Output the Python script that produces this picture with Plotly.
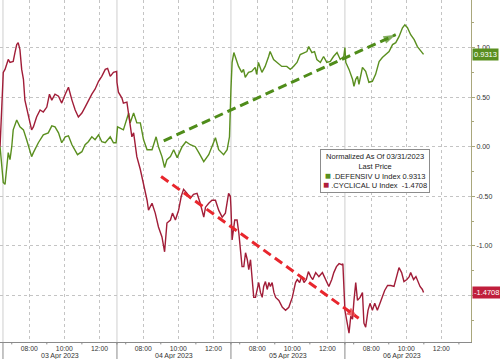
import plotly.graph_objects as go
import pandas as pd

# ---------------- data ----------------
day_labels = ["03 Apr 2023", "04 Apr 2023", "05 Apr 2023", "06 Apr 2023"]
session_dates = ["2023-04-03", "2023-04-04", "2023-04-05", "2023-04-06"]
time_tick_labels = ["08:00", "10:00", "12:00"]
ytick_vals = [1.0, 0.5, 0.0, -0.5, -1.0, -1.5]

defensiv_time = [
    "04-03 06:20", "04-03 06:31", "04-03 06:37", "04-03 06:48", "04-03 06:54", "04-03 07:00",
    "04-03 07:05", "04-03 07:17", "04-03 07:28", "04-03 07:40", "04-03 07:51", "04-03 08:08",
    "04-03 08:14", "04-03 08:31", "04-03 08:48", "04-03 09:05", "04-03 09:17", "04-03 09:28",
    "04-03 09:40", "04-03 09:51", "04-03 10:03", "04-03 10:14", "04-03 10:26", "04-03 10:45",
    "04-03 11:00", "04-03 11:11", "04-03 11:22", "04-03 11:34", "04-03 11:45", "04-03 11:57",
    "04-03 12:08", "04-03 12:20", "04-03 12:37", "04-03 12:48", "04-03 12:57",
    "04-04 06:32", "04-04 06:39", "04-04 06:52", "04-04 07:10", "04-04 07:15", "04-04 07:27",
    "04-04 07:38", "04-04 07:50", "04-04 08:01", "04-04 08:13", "04-04 08:30", "04-04 08:44",
    "04-04 08:52", "04-04 09:04", "04-04 09:13", "04-04 09:21", "04-04 09:33", "04-04 09:44",
    "04-04 09:56", "04-04 10:13", "04-04 10:26", "04-04 10:41", "04-04 10:58", "04-04 11:10",
    "04-04 11:27", "04-04 11:44", "04-04 12:01", "04-04 12:07", "04-04 12:18", "04-04 12:35",
    "04-04 12:47", "04-04 12:55",
    "04-05 06:30", "04-05 06:34", "04-05 06:40", "04-05 06:56", "04-05 07:07", "04-05 07:13",
    "04-05 07:19", "04-05 07:30", "04-05 07:41", "04-05 07:53", "04-05 07:58", "04-05 08:04",
    "04-05 08:16", "04-05 08:27", "04-05 08:39", "04-05 08:44", "04-05 08:56", "04-05 09:07",
    "04-05 09:24", "04-05 09:41", "04-05 09:53", "04-05 10:04", "04-05 10:16", "04-05 10:27",
    "04-05 10:39", "04-05 10:50", "04-05 10:56", "04-05 11:07", "04-05 11:16", "04-05 11:24",
    "04-05 11:36", "04-05 11:47", "04-05 11:58", "04-05 12:10", "04-05 12:21", "04-05 12:33",
    "04-05 12:44", "04-05 12:56",
    "04-06 06:30", "04-06 06:33", "04-06 06:44", "04-06 06:56", "04-06 07:01", "04-06 07:07",
    "04-06 07:13", "04-06 07:18", "04-06 07:30", "04-06 07:41", "04-06 07:52", "04-06 08:04",
    "04-06 08:15", "04-06 08:27", "04-06 08:38", "04-06 08:50", "04-06 09:01", "04-06 09:13",
    "04-06 09:24", "04-06 09:35", "04-06 09:47", "04-06 09:55", "04-06 10:04", "04-06 10:15",
    "04-06 10:27", "04-06 10:38", "04-06 10:50", "04-06 10:59",
]
defensiv_value = [
    0.00, -0.36, -0.38, -0.06, -0.13, 0.00,
    0.17, 0.27, 0.20, 0.17, 0.07, -0.10,
    -0.06, 0.04, 0.12, 0.14, 0.21, 0.20,
    0.14, 0.04, 0.10, 0.11, 0.02, -0.08,
    -0.05, 0.02, 0.05, 0.10, 0.07, 0.12,
    0.05, 0.04, 0.10, 0.04, 0.04,
    0.20, 0.19, 0.17, 0.34, 0.24, 0.34,
    0.24, 0.24, 0.07, -0.03, -0.03, 0.10,
    0.00, -0.10, -0.21, -0.13, -0.10, -0.03,
    -0.11, 0.00, 0.05, 0.02, 0.00, -0.06,
    -0.15, -0.08, 0.05, 0.09, -0.03, -0.08,
    -0.03, 0.10,
    0.58, 0.85, 0.95, 0.81, 0.75, 0.78,
    0.70, 0.75, 0.76, 0.80, 0.73, 0.85,
    0.75, 0.81, 0.91, 0.96, 0.88, 0.85,
    0.81, 0.81, 0.78, 0.81, 0.85, 0.93,
    0.95, 0.96, 1.01, 0.95, 0.96, 0.88,
    0.85, 0.91, 0.85, 0.86, 0.91, 0.95,
    0.88, 0.91,
    1.00, 0.85, 0.78, 0.68, 0.61, 0.68,
    0.71, 0.63, 0.80, 0.76, 0.65, 0.66,
    0.73, 0.86, 0.90, 0.93, 0.96, 1.03,
    1.05, 1.11, 1.20, 1.23, 1.20, 1.13,
    1.08, 1.01, 0.96, 0.9313,
]

cyclical_time = [
    "04-03 06:20", "04-03 06:31", "04-03 06:37", "04-03 06:43", "04-03 06:48", "04-03 06:54",
    "04-03 07:00", "04-03 07:05", "04-03 07:11", "04-03 07:17", "04-03 07:22", "04-03 07:28",
    "04-03 07:34", "04-03 07:40", "04-03 07:45", "04-03 07:57", "04-03 08:08", "04-03 08:14",
    "04-03 08:25", "04-03 08:37", "04-03 08:48", "04-03 09:00", "04-03 09:09", "04-03 09:17",
    "04-03 09:28", "04-03 09:40", "04-03 09:51", "04-03 10:03", "04-03 10:14", "04-03 10:26",
    "04-03 10:37", "04-03 10:48", "04-03 11:00", "04-03 11:11", "04-03 11:22", "04-03 11:34",
    "04-03 11:45", "04-03 11:57", "04-03 12:08", "04-03 12:20", "04-03 12:28", "04-03 12:37",
    "04-03 12:48", "04-03 12:59",
    "04-04 06:30", "04-04 06:35", "04-04 06:47", "04-04 06:52", "04-04 07:04", "04-04 07:10",
    "04-04 07:15", "04-04 07:21", "04-04 07:27", "04-04 07:38", "04-04 07:50", "04-04 08:01",
    "04-04 08:13", "04-04 08:18", "04-04 08:30", "04-04 08:41", "04-04 08:52", "04-04 09:04",
    "04-04 09:13", "04-04 09:21", "04-04 09:33", "04-04 09:40", "04-04 09:50", "04-04 10:01",
    "04-04 10:10", "04-04 10:18", "04-04 10:30", "04-04 10:41", "04-04 10:52", "04-04 11:04",
    "04-04 11:15", "04-04 11:27", "04-04 11:33", "04-04 11:44", "04-04 11:55", "04-04 12:07",
    "04-04 12:18", "04-04 12:30", "04-04 12:41", "04-04 12:52", "04-04 12:58",
    "04-05 06:30", "04-05 06:34", "04-05 06:43", "04-05 06:51", "04-05 06:57", "04-05 07:03",
    "04-05 07:08", "04-05 07:14", "04-05 07:20", "04-05 07:26", "04-05 07:31", "04-05 07:37",
    "04-05 07:43", "04-05 07:48", "04-05 07:54", "04-05 08:00", "04-05 08:05", "04-05 08:11",
    "04-05 08:17", "04-05 08:22", "04-05 08:28", "04-05 08:34", "04-05 08:40", "04-05 08:45",
    "04-05 08:51", "04-05 08:57", "04-05 09:03", "04-05 09:14", "04-05 09:26", "04-05 09:37",
    "04-05 09:48", "04-05 10:00", "04-05 10:11", "04-05 10:17", "04-05 10:25", "04-05 10:32",
    "04-05 10:40", "04-05 10:48", "04-05 10:55", "04-05 11:03", "04-05 11:10", "04-05 11:20",
    "04-05 11:31", "04-05 11:43", "04-05 11:54", "04-05 12:05", "04-05 12:15", "04-05 12:22",
    "04-05 12:31", "04-05 12:40", "04-05 12:49", "04-05 12:53",
    "04-06 06:30", "04-06 06:38", "04-06 06:44", "04-06 06:50", "04-06 06:56", "04-06 07:01",
    "04-06 07:07", "04-06 07:13", "04-06 07:22", "04-06 07:30", "04-06 07:35", "04-06 07:41",
    "04-06 07:49", "04-06 07:56", "04-06 08:04", "04-06 08:12", "04-06 08:21", "04-06 08:30",
    "04-06 08:38", "04-06 08:46", "04-06 08:56", "04-06 09:07", "04-06 09:18", "04-06 09:27",
    "04-06 09:35", "04-06 09:44", "04-06 09:52", "04-06 10:02", "04-06 10:10", "04-06 10:15",
    "04-06 10:25", "04-06 10:33", "04-06 10:40", "04-06 10:47", "04-06 10:55", "04-06 10:59",
]
cyclical_value = [
    0.00, 0.75, 0.78, 0.85, 0.88, 0.85,
    0.86, 0.86, 0.95, 1.03, 1.05, 0.98,
    0.78, 0.68, 0.47, 0.30, 0.17, 0.20,
    0.30, 0.37, 0.35, 0.40, 0.53, 0.47,
    0.53, 0.51, 0.44, 0.53, 0.60, 0.47,
    0.37, 0.30, 0.34, 0.40, 0.47, 0.53,
    0.58, 0.66, 0.71, 0.78, 0.79, 0.71,
    0.75, 0.76,
    0.65, 0.55, 0.49, 0.44, 0.45, 0.34,
    0.24, 0.10, 0.14, -0.10, -0.23, -0.37,
    -0.54, -0.64, -0.57, -0.67, -0.81, -0.91,
    -1.06, -0.77, -0.74, -0.67, -0.74, -0.64,
    -0.50, -0.43, -0.47, -0.52, -0.48, -0.47,
    -0.57, -0.71, -0.61, -0.57, -0.54, -0.54,
    -0.64, -0.71, -0.67, -0.47, -0.50,
    -0.61, -0.94, -0.74, -0.74, -0.87, -1.04,
    -1.21, -1.21, -1.07, -1.14, -1.24, -1.14,
    -1.34, -1.52, -1.52, -1.44, -1.37, -1.47,
    -1.52, -1.41, -1.36, -1.44, -1.37, -1.41,
    -1.37, -1.47, -1.52, -1.55, -1.62, -1.65,
    -1.62, -1.52, -1.37, -1.34, -1.37, -1.31,
    -1.37, -1.34, -1.26, -1.31, -1.34, -1.27,
    -1.31, -1.27, -1.34, -1.41, -1.34, -1.27,
    -1.21, -1.18, -1.19, -1.18,
    -1.65, -1.78, -1.88, -1.71, -1.74, -1.55,
    -1.37, -1.55, -1.52, -1.47, -1.78, -1.82,
    -1.65, -1.58, -1.65, -1.58, -1.65, -1.58,
    -1.52, -1.45, -1.40, -1.40, -1.41, -1.31,
    -1.22, -1.27, -1.36, -1.34, -1.31, -1.27,
    -1.34, -1.31, -1.37, -1.41, -1.44, -1.4708,
]

# trend arrows (time, value)
green_arrow_time = ["04-04 09:10", "04-06 09:24"]
green_arrow_value = [0.06, 1.13]
red_arrow_time = ["04-04 09:01", "04-06 07:17"]
red_arrow_value = [-0.30, -1.73]

# ---------------- helpers ----------------
SESSION_START = 6.5   # 06:30
SESSION_LEN = 6.5     # hours per session shown
base = pd.Timestamp("2023-04-03")


def to_pos(stamps):
    """Map timestamps to continuous session-hours (non-trading hours collapsed)."""
    out = []
    for s in stamps:
        ts = pd.Timestamp("2023-" + s)
        d = (ts.normalize() - base).days
        h = ts.hour + ts.minute / 60.0
        out.append(d * SESSION_LEN + (h - SESSION_START))
    return out


GREEN = "#5a8f1f"
RED = "#a11d38"
GREEN_ARROW = "#4f8c1a"
RED_ARROW = "#e8262d"
FONT = "Liberation Sans, Arial, sans-serif"

fig = go.Figure()

fig.add_trace(go.Scatter(x=to_pos(defensiv_time), y=defensiv_value, mode="lines",
                         line=dict(color=GREEN, width=1.4), showlegend=False, hoverinfo="skip"))
fig.add_trace(go.Scatter(x=to_pos(cyclical_time), y=cyclical_value, mode="lines",
                         line=dict(color=RED, width=1.4), showlegend=False, hoverinfo="skip"))

# dashed arrows
for t, v, c in [(green_arrow_time, green_arrow_value, GREEN_ARROW),
                (red_arrow_time, red_arrow_value, RED_ARROW)]:
    xs = to_pos(t)
    fig.add_trace(go.Scatter(x=xs, y=v, mode="lines",
                             line=dict(color=c, width=3, dash="9px,5px"),
                             showlegend=False, hoverinfo="skip"))
    fig.add_trace(go.Scatter(x=[xs[0], xs[1]], y=v, mode="markers",
                             marker=dict(symbol="arrow", size=[0, 13], angleref="previous",
                                         color=c, line=dict(width=0)),
                             showlegend=False, hoverinfo="skip"))

# x ticks
tickvals, ticktext, minor_vals = [], [], []
for d in range(len(session_dates)):
    for lab in time_tick_labels:
        h = int(lab[:2])
        tickvals.append(d * SESSION_LEN + h - SESSION_START)
        ticktext.append(lab)
    for h in [7, 9, 11, 13]:
        minor_vals.append(d * SESSION_LEN + h - SESSION_START)

x_min, x_max = -0.17, 26.69
y_min, y_max = -1.97, 1.48

shapes = []
# day separators
for d in range(len(session_dates)):
    xv = d * SESSION_LEN
    shapes.append(dict(type="line", xref="x", yref="paper", x0=xv, x1=xv, y0=0, y1=1,
                       line=dict(color="#cfcfcf", width=1), layer="below"))
    shapes.append(dict(type="line", xref="x", yref="paper", x0=xv, x1=xv, y0=-0.06, y1=0,
                       line=dict(color="#8a8a8a", width=1), layer="above"))
# minor x ticks
for xv in minor_vals:
    shapes.append(dict(type="line", xref="x", yref="paper", x0=xv, x1=xv, y0=-0.007, y1=0,
                       line=dict(color="#8a8a8a", width=1)))

annotations = []
for d, lab in enumerate(day_labels):
    annotations.append(dict(x=d * SESSION_LEN + 3.25, y=0, xref="x", yref="paper",
                            text=lab, showarrow=False, yanchor="top", yshift=-8,
                            font=dict(family=FONT, size=7, color="#333333")))

# last value tags
annotations.append(dict(x=1, y=defensiv_value[-1], xref="paper", yref="y",
                        text=f"{defensiv_value[-1]:.4f}", showarrow=False,
                        xanchor="left", xshift=1, bgcolor=GREEN, borderpad=1,
                        font=dict(family=FONT, size=7.5, color="white")))
annotations.append(dict(x=1, y=cyclical_value[-1], xref="paper", yref="y",
                        text=f"{cyclical_value[-1]:.4f}", showarrow=False,
                        xanchor="left", xshift=1, bgcolor="#c01f3c", borderpad=1,
                        font=dict(family=FONT, size=7.5, color="white")))

# legend box
legend_text = (
    "Normalized As Of 03/31/2023<br>Last Price<br>"
    f"<span style='color:{GREEN};font-size:10px'>■</span> .DEFENSIV U Index {defensiv_value[-1]:.4f}<br>"
    f"<span style='color:#b01e3a;font-size:10px'>■</span> .CYCLICAL U Index  {cyclical_value[-1]:.4f}"
)
annotations.append(dict(x=0.7957, y=0.5, xref="paper", yref="paper", text=legend_text,
                        showarrow=False, xanchor="center", yanchor="middle", align="center",
                        bgcolor="white", bordercolor="#8c8c8c", borderwidth=1, borderpad=2,
                        font=dict(family=FONT, size=7.5, color="#222222")))

fig.update_layout(
    width=500, height=359,
    margin=dict(l=0, r=29, t=0, b=17),
    paper_bgcolor="white", plot_bgcolor="white",
    showlegend=False,
    shapes=shapes,
    annotations=annotations,
    xaxis=dict(range=[x_min, x_max], tickmode="array", tickvals=tickvals, ticktext=ticktext,
               showgrid=True, gridcolor="#c4c4c4", griddash="dot", gridwidth=1,
               showline=True, linecolor="#8a8a8a", linewidth=1,
               ticks="", ticklen=0, zeroline=False,
               tickfont=dict(family=FONT, size=6.8, color="#333333")),
    yaxis=dict(range=[y_min, y_max], side="right", tickmode="array", tickvals=ytick_vals,
               ticktext=[f"{v:.2f}" for v in ytick_vals],
               showgrid=True, gridcolor="#c4c4c4", griddash="dot", gridwidth=1,
               showline=True, linecolor="#a9a77c", linewidth=1,
               ticks="outside", ticklen=3, tickcolor="#a9a77c", zeroline=False,
               minor=dict(dtick=0.25, tick0=0, ticks="outside", ticklen=2,
                          tickcolor="#a9a77c", showgrid=False),
               tickfont=dict(family=FONT, size=7, color="#333333")),
)

fig.write_html("out.html", config={"displayModeBar": False},
               post_script="document.body.style.margin='0px';")
